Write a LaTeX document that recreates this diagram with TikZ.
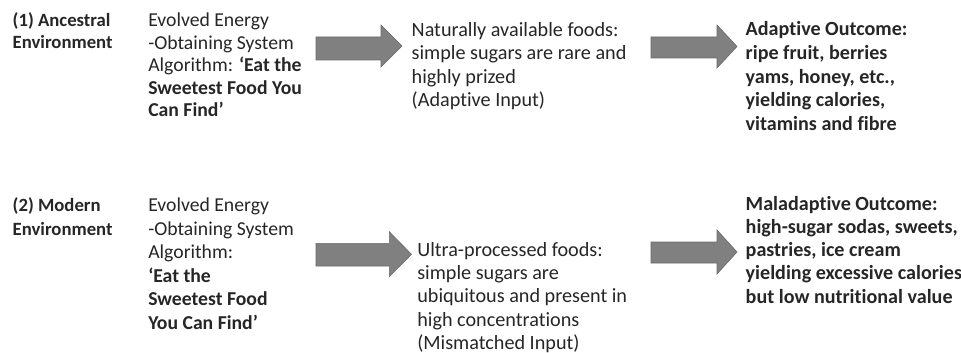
\documentclass[tikz,border=0pt]{standalone}
\usepackage{fontspec}
\setmainfont{Carlito}[Ligatures=NoCommon]
\definecolor{txt}{HTML}{262626}
\definecolor{arrfill}{HTML}{808080}
\definecolor{arrline}{HTML}{6A6A6A}
\begin{document}
\begin{tikzpicture}[x=1pt,y=-1pt,
  every node/.style={inner sep=0pt, outer sep=0pt, anchor=base west, align=left, text=txt},
  lbl/.style={font=\fontsize{18.7}{#1}\selectfont\bfseries},
  body/.style={font=\fontsize{19.7}{#1}\selectfont},
  bodyc/.style={font=\fontsize{20.2}{#1}\selectfont},
  bodyb/.style={font=\fontsize{20.1}{#1}\selectfont\bfseries},
  blockarrow/.style={fill=arrfill, draw=arrline, line width=0.6pt, line join=miter}]
\useasboundingbox (0,0) rectangle (961,353);

% Row 1 (anchor = baseline of the last line)
\node[lbl=22] (envA) at (12.7,48.7) {(1) Ancestral\\Environment};
\node[body=22.5] (algA) at (148.3,116.7) {Evolved Energy\\-Obtaining System\\Algorithm: \textbf{‘Eat the}\\\textbf{Sweetest Food You}\\\textbf{Can Find’}};
\node[bodyc=23.3] (inA) at (411.7,106.4) {Naturally available foods:\\simple sugars are rare and\\highly prized\\(Adaptive Input)};
\node[bodyb=23.75] (outA) at (745.7,130.7) {Adaptive Outcome:\\ripe fruit, berries\\yams, honey, etc.,\\yielding calories,\\vitamins and fibre};

\draw[blockarrow] (316,37) -- (381,37) -- (381,25) -- (402,46) -- (381,67) -- (381,60) -- (316,60) -- cycle;
\draw[blockarrow] (651,37) -- (717,37) -- (717,25) -- (737,46.5) -- (717,68) -- (717,58) -- (651,58) -- cycle;

% Row 2
\node[lbl=23.3] (envB) at (12.7,235) {(2) Modern\\Environment};
\node[body=23.5] (algB) at (148.3,329.2) {Evolved Energy\\-Obtaining System\\Algorithm:\\\textbf{‘Eat the}\\\textbf{Sweetest Food}\\\textbf{You Can Find’}};
\node[bodyc=23.2] (inB) at (417.3,349.3) {Ultra-processed foods:\\simple sugars are\\ubiquitous and present in\\high concentrations\\(Mismatched Input)};
\node[bodyb=23.3] (outB) at (745.7,303.2) {Maladaptive Outcome:\\high-sugar sodas, sweets,\\pastries, ice cream\\yielding excessive calories\\but low nutritional value};

\draw[blockarrow] (316,243.3) -- (389.3,243.3) -- (389.3,231.7) -- (411.5,254.3) -- (389.3,276.7) -- (389.3,266) -- (316,266) -- cycle;
\draw[blockarrow] (651,242) -- (717,242) -- (717,230) -- (737,252) -- (717,274) -- (717,263) -- (651,263) -- cycle;
\end{tikzpicture}
\end{document}
